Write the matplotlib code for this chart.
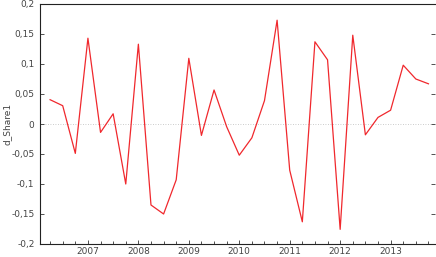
import matplotlib
matplotlib.use("Agg")
import matplotlib.pyplot as plt
from matplotlib.ticker import FixedLocator, MultipleLocator, FuncFormatter

start_year = 2006.25
values = [0.0405, 0.0305, -0.049, 0.143, -0.014, 0.017, -0.100, 0.133,
          -0.135, -0.150, -0.093, 0.1095, -0.019, 0.0567, -0.0045, -0.052,
          -0.023, 0.039, 0.173, -0.077, -0.163, 0.137, 0.107, -0.1756,
          0.148, -0.018, 0.011, 0.023, 0.098, 0.075, 0.067]
year_ticks = [2007, 2008, 2009, 2010, 2011, 2012, 2013]
y_ticks = [-0.2, -0.15, -0.1, -0.05, 0, 0.05, 0.1, 0.15, 0.2]
y_label = "d_Share1"

x = [start_year + 0.25 * i for i in range(len(values))]

fig = plt.figure(figsize=(4.36, 2.57), dpi=100)
ax = fig.add_axes([40/436, 1-244/257, 395/436, 240/257])

ax.axhline(0, color="#bbbbbb", lw=0.6, ls=(0, (1, 2)), zorder=1)
ax.plot(x, values, color="#f0282d", lw=0.9, zorder=2)

ax.set_xlim(2006.05, 2013.88)
ax.set_ylim(-0.2, 0.2)

ax.xaxis.set_major_locator(FixedLocator(year_ticks))
ax.xaxis.set_minor_locator(MultipleLocator(0.25))
ax.yaxis.set_major_locator(FixedLocator(y_ticks))

def fmt(v, pos):
    if abs(v) < 1e-9:
        return "0"
    s = ("%g" % v).replace(".", ",")
    return s
ax.yaxis.set_major_formatter(FuncFormatter(fmt))

ax.tick_params(axis="both", which="both", direction="in", colors="#333333",
               labelsize=6.5, labelcolor="#444444", width=0.6)
ax.tick_params(axis="y", which="major", length=3, right=True, left=True, pad=4)
ax.tick_params(axis="x", which="major", length=3, top=False, pad=2)
ax.tick_params(axis="x", which="minor", length=2, top=False)

for side in ["left", "top", "bottom"]:
    ax.spines[side].set_linewidth(0.8)
    ax.spines[side].set_color("#222222")
ax.spines["right"].set_visible(False)

ax.set_ylabel(y_label, fontsize=6.5, color="#444444", va="center")
ax.yaxis.set_label_coords((7 - 40) / 395, 0.5)

fig.savefig("out.png", dpi=100)
